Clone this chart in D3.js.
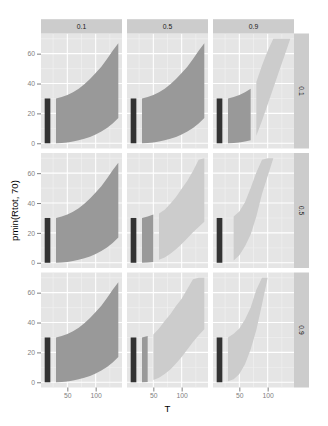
<!DOCTYPE html>
<html><head><meta charset="utf-8">
<script src="https://cdn.jsdelivr.net/npm/d3@7"></script>
<style>body{margin:0;background:#fff}svg{display:block}text{font-family:"Liberation Sans",Arial,sans-serif}</style>
</head><body><svg id="c" width="328" height="426"></svg>
<script>
const colLabels = ["0.1","0.5","0.9"];
const rowLabels = ["0.1","0.5","0.9"];
const xTicks = [50,100];
const xMinor = [25,75,125];
const yTicks = [0,20,40,60];
const yMinor = [10,30,50,70];

// black band (all panels)
const blackT = [10,20];
const blackLo = [0,0];
const blackHi = [30,30];

// dark-grey band
const baseT  = [30,40,50,60,70,80,90,100,110,120,130,140];
const baseHi = [30,31,32.3,34.2,36.5,39.5,43,47,51.3,56.5,62,67];
const baseLo = [0,0.2,0.6,1.2,2.0,3.0,4.2,5.8,7.8,10.3,13.3,17];
// last T of the dark band per panel [row][col]; null = none
const darkEnd = [[140,140,70],[140,50,null],[140,40,null]];

// light-grey bands
const r1c3T  = [80,90,100,110,120,130,140];
const r1c3Hi = [41,52,62,70,70,70,70];
const r1c3Lo = [5,15,26,37,48,59,70];

const r2c2T  = [60,70,80,90,100,110,120,130,140];
const r2c2Hi = [33,35.5,39.5,44,49.5,55,61.5,69,70];
const r2c2Lo = [2,3.5,6,9,12.5,16.5,20.5,24,27.5];

const r2c3T  = [40,50,60,70,80,90,100,110];
const r2c3Hi = [31,34.3,40.5,50,60.5,69,70,70];
const r2c3Lo = [1.5,5,11,19,31,46,58,70];

const r3c2T  = [50,60,70,80,90,100,110,120,130,140];
const r3c2Hi = [32,36,41,45.5,51,56,62.5,69,70,70];
const r3c2Lo = [1.5,3,5.5,8.5,12.5,17,22,27,31.5,35.5];

const r3c3T  = [30,40,50,60,70,80,90,100];
const r3c3Hi = [30,32.5,36,42,50,62,70,70];
const r3c3Lo = [0.7,2,5.5,12,22,35,52,70];

const lightBands = [
  {r:0,c:2,T:r1c3T,hi:r1c3Hi,lo:r1c3Lo},
  {r:1,c:1,T:r2c2T,hi:r2c2Hi,lo:r2c2Lo},
  {r:1,c:2,T:r2c3T,hi:r2c3Hi,lo:r2c3Lo},
  {r:2,c:1,T:r3c2T,hi:r3c2Hi,lo:r3c2Lo},
  {r:2,c:2,T:r3c3T,hi:r3c3Hi,lo:r3c3Lo}
];

const fills = {black:"#333333", dark:"#999999", light:"#cccccc"};

const svg = d3.select("#c");
const colX = [41,127,213], pw = 81;
const rowY = [33.5,153,272.5], ph = 115;
const x = d3.scaleLinear().domain([3.5,146.5]).range([0,pw]);
const y = d3.scaleLinear().domain([-3.5,73.5]).range([ph,0]);
const area = d3.area().x(d=>x(d.t)).y0(d=>y(d.lo)).y1(d=>y(d.hi));
const zip = (T,lo,hi) => T.map((t,i)=>({t, lo:lo[i], hi:hi[i]}));

for (let r=0;r<3;r++) for (let c=0;c<3;c++) {
  const g = svg.append("g").attr("transform",`translate(${colX[c]},${rowY[r]})`);
  g.append("rect").attr("width",pw).attr("height",ph).attr("fill","#e5e5e5");
  g.selectAll(".mx").data(xMinor).join("line").attr("x1",d=>x(d)).attr("x2",d=>x(d)).attr("y1",0).attr("y2",ph).attr("stroke","#f2f2f2").attr("stroke-width",0.6);
  g.selectAll(".my").data(yMinor).join("line").attr("y1",d=>y(d)).attr("y2",d=>y(d)).attr("x1",0).attr("x2",pw).attr("stroke","#f2f2f2").attr("stroke-width",0.6);
  g.selectAll(".Mx").data(xTicks).join("line").attr("x1",d=>x(d)).attr("x2",d=>x(d)).attr("y1",0).attr("y2",ph).attr("stroke","#ffffff").attr("stroke-width",1.1);
  g.selectAll(".My").data(yTicks).join("line").attr("y1",d=>y(d)).attr("y2",d=>y(d)).attr("x1",0).attr("x2",pw).attr("stroke","#ffffff").attr("stroke-width",1.1);

  g.append("path").attr("d",area(zip(blackT,blackLo,blackHi))).attr("fill",fills.black);
  const de = darkEnd[r][c];
  if (de !== null) {
    const idx = baseT.filter(t=>t<=de).length;
    g.append("path").attr("d",area(zip(baseT.slice(0,idx),baseLo.slice(0,idx),baseHi.slice(0,idx)))).attr("fill",fills.dark);
  }
  lightBands.filter(b=>b.r===r&&b.c===c).forEach(b=>{
    g.append("path").attr("d",area(zip(b.T,b.lo,b.hi))).attr("fill",fills.light);
  });

  if (c===0) {
    const ax = g.append("g").call(d3.axisLeft(y).tickValues(yTicks).tickSize(4).tickPadding(2));
    ax.select(".domain").remove();
    ax.selectAll("line").attr("stroke","#7f7f7f");
    ax.selectAll("text").attr("fill","#7f7f7f").attr("font-size",6.8).attr("font-family","Liberation Sans, Arial, sans-serif");
  }
  if (r===2) {
    const ax = g.append("g").attr("transform",`translate(0,${ph})`).call(d3.axisBottom(x).tickValues(xTicks).tickSize(4).tickPadding(2));
    ax.select(".domain").remove();
    ax.selectAll("line").attr("stroke","#7f7f7f");
    ax.selectAll("text").attr("fill","#7f7f7f").attr("font-size",6.8).attr("font-family","Liberation Sans, Arial, sans-serif");
  }
}

// top strips
colLabels.forEach((lab,c)=>{
  svg.append("rect").attr("x",colX[c]).attr("y",19.2).attr("width",pw).attr("height",rowY[0]-19.2).attr("fill","#cccccc");
  svg.append("text").attr("x",colX[c]+pw/2).attr("y",(19.2+rowY[0])/2).attr("dy","0.35em").attr("text-anchor","middle").attr("font-size",6.8).attr("fill","#1a1a1a").text(lab);
});
// right strips
rowLabels.forEach((lab,r)=>{
  const sx = colX[2]+pw;
  svg.append("rect").attr("x",sx).attr("y",rowY[r]).attr("width",15).attr("height",ph).attr("fill","#cccccc");
  const cx = sx+7.5, cy = rowY[r]+ph/2;
  svg.append("text").attr("transform",`translate(${cx},${cy}) rotate(90)`).attr("dy","0.35em").attr("text-anchor","middle").attr("font-size",6.8).attr("fill","#1a1a1a").text(lab);
});

// axis titles
svg.append("text").attr("x",(colX[0]+colX[2]+pw)/2).attr("y",411.5).attr("text-anchor","middle").attr("font-size",9.6).attr("fill","#000").text("T");
svg.append("text").attr("transform",`translate(18,${rowY[0]+(rowY[2]+ph-rowY[0])/2}) rotate(-90)`).attr("text-anchor","middle").attr("font-size",9.6).attr("fill","#000").text("pmin(Rtot, 70)");
</script></body></html>
